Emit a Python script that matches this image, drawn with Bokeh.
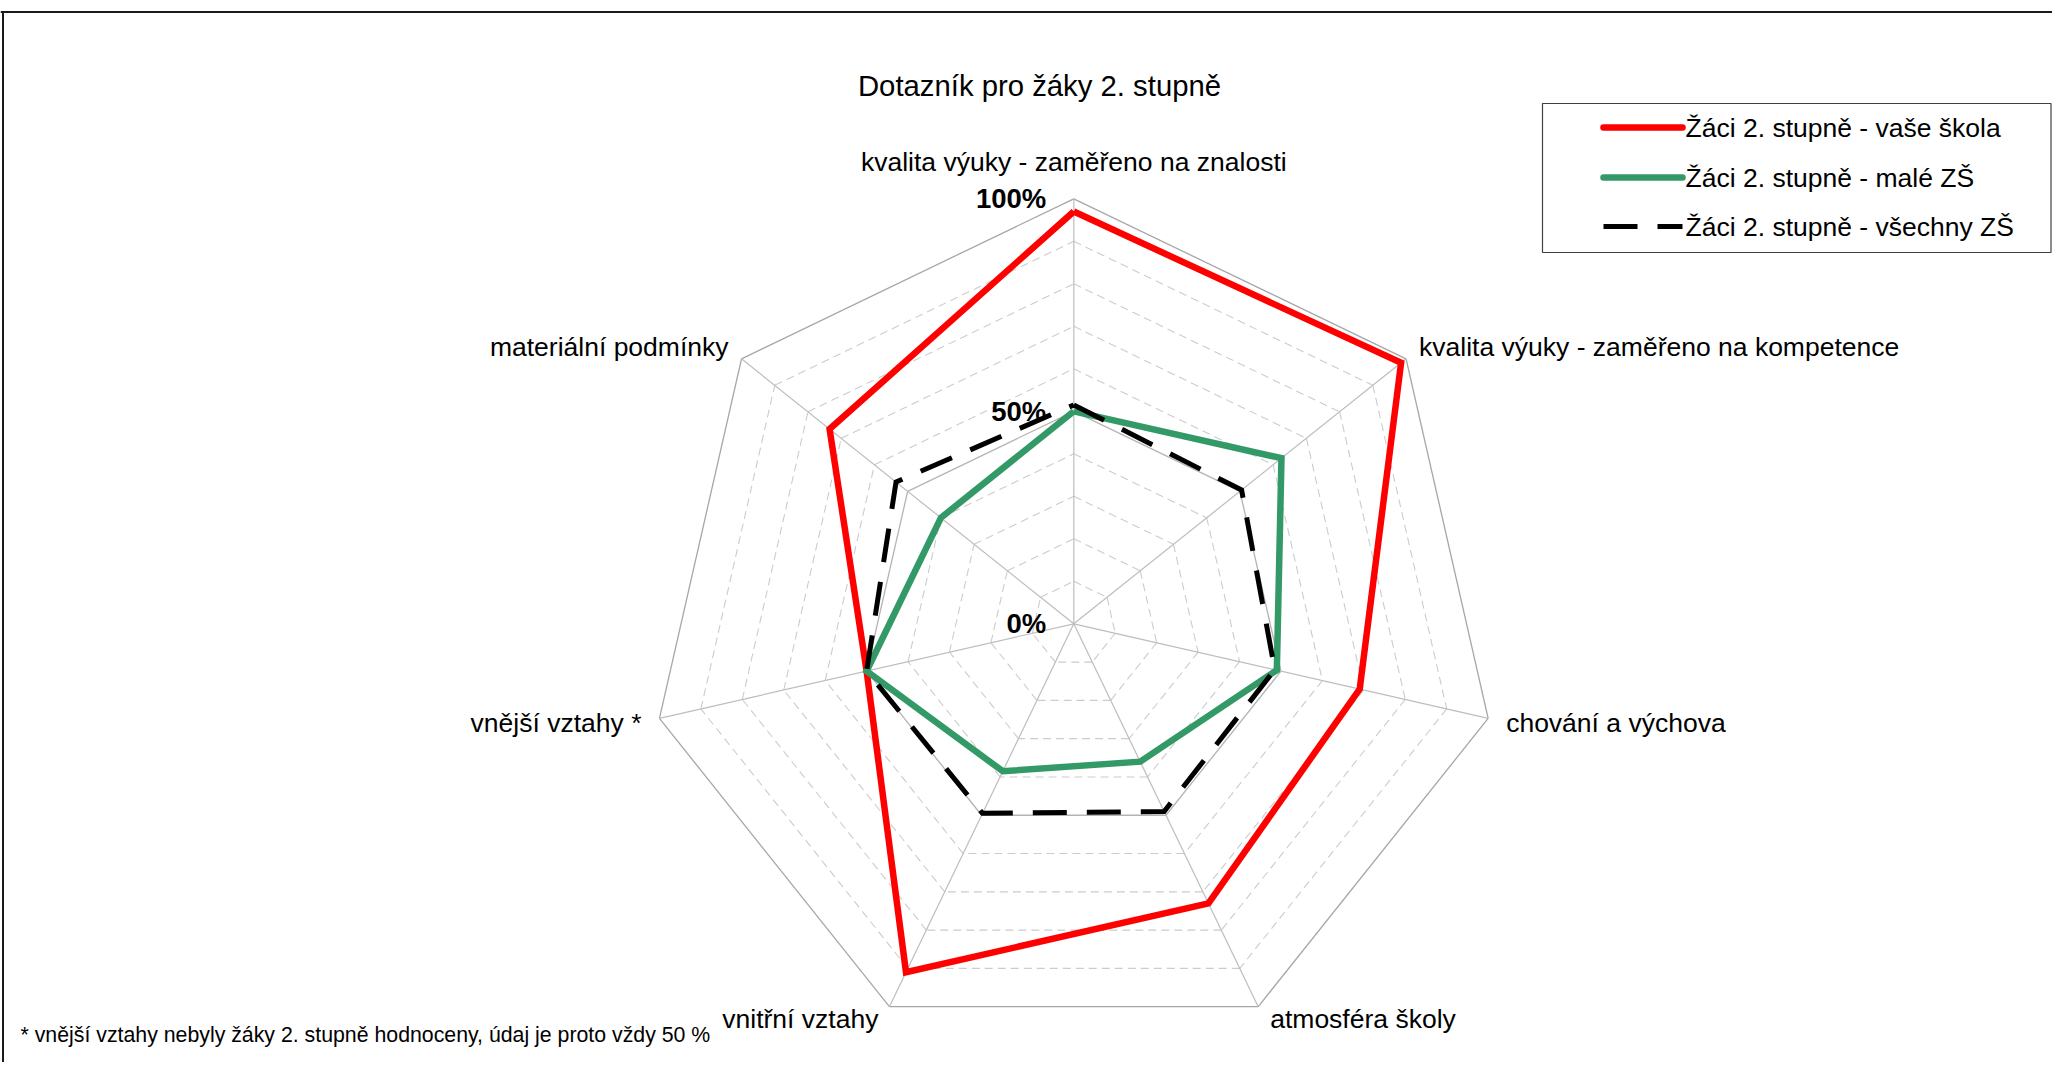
import math
from bokeh.plotting import figure
from bokeh.models import Range1d
from bokeh.core.properties import value
from bokeh.embed import file_html
from bokeh.resources import INLINE

# ---------------- data ----------------
chart_title = "Dotazník pro žáky 2. stupně"
categories = [
    "kvalita výuky - zaměřeno na znalosti",
    "kvalita výuky - zaměřeno na kompetence",
    "chování a výchova",
    "atmosféra školy",
    "vnitřní vztahy",
    "vnější vztahy *",
    "materiální podmínky",
]
series_names = [
    "Žáci 2. stupně - vaše škola",
    "Žáci 2. stupně - malé ZŠ",
    "Žáci 2. stupně - všechny ZŠ",
]
vase_skola = [97, 98.5, 69, 73, 91, 50, 73.5]
male_zs = [50, 62.5, 49, 36, 38.5, 50, 40]
vsechny_zs = [51.5, 50.5, 48.5, 49, 49.5, 50, 53.5]
grid_levels = [10, 20, 30, 40, 50, 60, 70, 80, 90, 100]
major_levels = [0, 50, 100]
major_labels = ["0%", "50%", "100%"]
footnote = "* vnější vztahy nebyly žáky 2. stupně hodnoceny, údaj je proto vždy 50 %"

# ---------------- layout ----------------
W, H = 2052, 1062
CX, CY, R = 1073.3, 623.3, 425.0
FONT = value("Liberation Sans")
N = len(categories)
angles = [2 * math.pi * i / N for i in range(N)]


def pt(v, a):
    return CX + v / 100.0 * R * math.sin(a), CY - v / 100.0 * R * math.cos(a)


p = figure(width=W, height=H, output_backend="svg", toolbar_location=None,
           x_range=Range1d(0, W), y_range=Range1d(H, 0),
           min_border=0)
p.axis.visible = False
p.grid.visible = False
p.outline_line_color = None
p.background_fill_color = "white"
p.border_fill_color = "white"

# frame border (top and left)
p.segment(x0=[0, 2.5], y0=[11.5, 11.5], x1=[W, 2.5], y1=[11.5, H],
          line_color="#1a1a1a", line_width=2)

# rings
for lev in grid_levels:
    x0, y0, x1, y1 = [], [], [], []
    for i in range(N):
        a, b = pt(lev, angles[i]), pt(lev, angles[(i + 1) % N])
        x0.append(a[0]); y0.append(a[1]); x1.append(b[0]); y1.append(b[1])
    if lev == 100:
        p.segment(x0=x0, y0=y0, x1=x1, y1=y1, line_color="#a6a6a6", line_width=1.3)
    elif lev == 50:
        p.segment(x0=x0, y0=y0, x1=x1, y1=y1, line_color="#b4b4b4", line_width=1.3)
    else:
        p.segment(x0=x0, y0=y0, x1=x1, y1=y1, line_color="#cccccc", line_width=1.1,
                  line_dash="8 5")

# spokes
sx = [pt(100, a)[0] for a in angles]
sy = [pt(100, a)[1] for a in angles]
p.segment(x0=[CX] * N, y0=[CY] * N, x1=sx, y1=sy, line_color="#bdbdbd", line_width=1.2)

# series
styles = [
    dict(line_color="#ff0000", line_width=6.5),
    dict(line_color="#339966", line_width=6.5),
    dict(line_color="#000000", line_width=5, line_dash="34 20"),
]
for vals, st in zip([vase_skola, male_zs, vsechny_zs], styles):
    xs = [pt(v, a)[0] for v, a in zip(vals, angles)]
    ys = [pt(v, a)[1] for v, a in zip(vals, angles)]
    xs.append(xs[0]); ys.append(ys[0])
    p.line(xs, ys, line_join="miter", **st)

# category labels
offsets = [(0, -37, "center"), (13, -11.5, "left"), (18, 5, "left"), (12, 12, "left"),
           (-11, 12, "right"), (-18, 5, "right"), (-13, -11.5, "right")]
for cat, a, (dx, dy, al) in zip(categories, angles, offsets):
    vx, vy = pt(100, a)
    p.text(x=[vx + dx], y=[vy + dy], text=[cat], text_font=FONT, text_font_size="26.5px",
           text_align=al, text_baseline="middle", text_color="#000000")

# value axis labels
p.text(x=[CX - 27.5] * len(major_levels), y=[CY - v / 100.0 * R for v in major_levels],
       text=major_labels, text_font=FONT, text_font_size="27.5px", text_font_style="bold",
       text_align="right", text_baseline="middle", text_color="#000000")

# title
p.text(x=[1039], y=[85], text=[chart_title], text_font=FONT, text_font_size="29.3px",
       text_align="center", text_baseline="middle", text_color="#000000")

# footnote
p.text(x=[20], y=[1034], text=[footnote], text_font=FONT, text_font_size="21.3px",
       text_align="left", text_baseline="middle", text_color="#000000")

# legend
p.quad(left=[1542], right=[2050.5], top=[103], bottom=[252], fill_color="white",
       line_color="#404040", line_width=1.2)
leg_y = [127, 177, 226]
for name, st, y in zip(series_names, styles, leg_y):
    p.line([1603, 1682], [y, y], line_cap="round" if "line_dash" not in st else "butt", **st)
    p.text(x=[1685], y=[y], text=[name], text_font=FONT, text_font_size="26.5px",
           text_align="left", text_baseline="middle", text_color="#000000")

open("out.html", "w").write(file_html(p, INLINE))
